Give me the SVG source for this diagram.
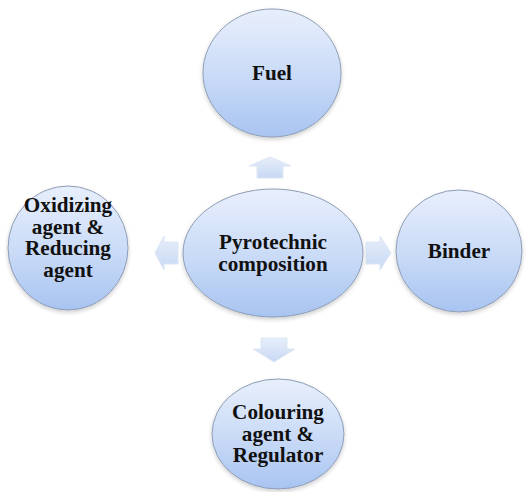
<svg xmlns="http://www.w3.org/2000/svg" width="530" height="492" viewBox="0 0 530 492">
<defs>
<linearGradient id="cg" x1="0" y1="0" x2="0" y2="1">
<stop offset="0" stop-color="#e8effc"/>
<stop offset="0.5" stop-color="#cbdcf7"/>
<stop offset="1" stop-color="#a8c4f1"/>
</linearGradient>
<linearGradient id="ag" x1="0" y1="0" x2="0" y2="1">
<stop offset="0" stop-color="#e6eefa"/>
<stop offset="1" stop-color="#c8d8f3"/>
</linearGradient>
<filter id="sh" x="-20%" y="-20%" width="140%" height="140%">
<feGaussianBlur in="SourceAlpha" stdDeviation="2"/>
<feOffset dx="0" dy="2" result="b"/>
<feComponentTransfer><feFuncA type="linear" slope="0.2"/></feComponentTransfer>
<feMerge><feMergeNode/><feMergeNode in="SourceGraphic"/></feMerge>
</filter>
</defs>
<style>
.c{fill:url(#cg);stroke:#8e9db5;stroke-width:1;filter:url(#sh)}
.a{fill:url(#ag);stroke:#dde6f4;stroke-width:1}
.t{font-family:"Liberation Serif","Times New Roman",serif;font-weight:bold;font-size:20px;fill:#111;text-anchor:middle}
</style>
<rect width="530" height="492" fill="#fff"/>
<g id="connectors">
<path class="a" d="M270,157 L291,166 L283,166 L283,178 L257,178 L257,166 L249,166 Z"/>
<path class="a" d="M155,253 L164,236 L164,242 L178,242 L178,264 L164,264 L164,270 Z"/>
<path class="a" d="M391,253 L380,236 L380,242 L366,242 L366,264 L380,264 L380,270 Z"/>
<path class="a" d="M274,362 L295,349 L287,349 L287,338 L261,338 L261,349 L253,349 Z"/>
</g>
<g id="fuel">
<ellipse class="c" cx="272" cy="73" rx="69" ry="64"/>
<g transform="translate(272,0) scale(1.06,1)"><text class="t" x="0" y="80">Fuel</text></g>
</g>
<g id="center">
<ellipse class="c" cx="273" cy="253" rx="90" ry="64"/>
<g transform="translate(273,0) scale(1.06,1)"><text class="t" x="0" y="249">Pyrotechnic</text><text class="t" x="0" y="271">composition</text></g>
</g>
<g id="oxidizing">
<ellipse class="c" cx="68" cy="248" rx="60" ry="62"/>
<g transform="translate(68,0) scale(1.06,1)"><text class="t" x="0" y="212">Oxidizing</text><text class="t" x="0" y="234">agent &amp;</text><text class="t" x="0" y="255">Reducing</text><text class="t" x="0" y="277">agent</text></g>
</g>
<g id="binder">
<ellipse class="c" cx="459" cy="251" rx="63" ry="61"/>
<g transform="translate(459,0) scale(1.06,1)"><text class="t" x="0" y="258">Binder</text></g>
</g>
<g id="colouring">
<ellipse class="c" cx="278" cy="434" rx="66" ry="55"/>
<g transform="translate(278,0) scale(1.06,1)"><text class="t" x="0" y="419">Colouring</text><text class="t" x="0" y="441">agent &amp;</text><text class="t" x="0" y="462">Regulator</text></g>
</g>
</svg>
